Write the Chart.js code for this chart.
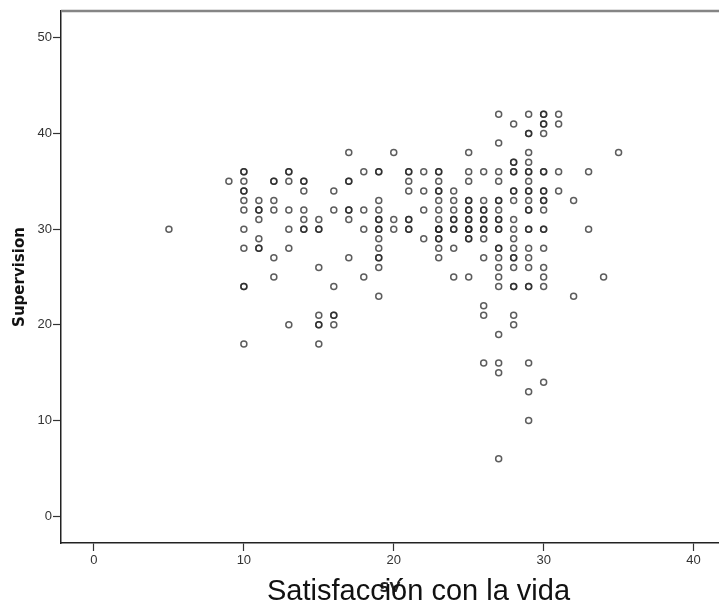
<!DOCTYPE html>
<html lang="es">
<head>
<meta charset="utf-8">
<title>Satisfacción con la vida</title>
<script src="https://cdn.jsdelivr.net/npm/chart.js@4/dist/chart.umd.js"></script>
<style>
    html, body { margin: 0; padding: 0; background: #fff; overflow: hidden; }
    #caja { position: relative; width: 719px; height: 605px; }
    #etiqueta {
        position: absolute; left: 267px; top: 574px; white-space: nowrap;
        font: 29px "Liberation Sans", Arial, sans-serif; color: #111;
    }
</style>
</head>
<body>
<div id="caja">
    <canvas id="grafica" width="719" height="605"></canvas>
    <div id="etiqueta">Satisfacción con la vida</div>
</div>
<script>
// repeated values are cases that overlap, they print darker
const valoresSV = [5, 9, 10, 11, 12, 13, 14, 15, 16, 17, 18, 19, 20, 21, 22, 23, 24, 25, 26, 27, 28, 29, 30, 31, 32, 33, 34, 35];
const supervisionPorSV = [
    [30],
    [35],
    [36, 36, 35, 34, 34, 33, 32, 30, 28, 24, 24, 18],
    [33, 32, 32, 31, 29, 28, 28],
    [35, 35, 33, 32, 27, 25],
    [36, 36, 35, 32, 30, 28, 20],
    [35, 35, 34, 32, 31, 30, 30],
    [31, 30, 30, 26, 21, 20, 20, 18],
    [34, 32, 24, 21, 21, 20],
    [38, 35, 35, 32, 32, 31, 27],
    [36, 32, 30, 25],
    [36, 36, 33, 32, 31, 31, 30, 30, 29, 28, 27, 27, 26, 23],
    [38, 31, 30],
    [36, 36, 35, 34, 31, 31, 30, 30],
    [36, 34, 32, 29],
    [36, 36, 35, 34, 34, 33, 32, 31, 30, 30, 30, 29, 29, 28, 27],
    [34, 33, 32, 31, 31, 30, 30, 28, 25],
    [38, 36, 35, 33, 33, 32, 32, 31, 31, 30, 30, 30, 29, 29, 25],
    [36, 33, 32, 32, 31, 31, 30, 30, 29, 27, 22, 21, 16],
    [42, 39, 36, 35, 33, 33, 32, 31, 31, 30, 30, 28, 28, 27, 26, 25, 24, 19, 16, 15, 6],
    [41, 37, 37, 36, 36, 34, 34, 33, 31, 30, 29, 28, 27, 27, 26, 24, 24, 21, 20],
    [42, 40, 40, 38, 37, 36, 36, 35, 34, 34, 33, 32, 32, 30, 30, 28, 27, 26, 24, 24, 16, 13, 10],
    [42, 42, 41, 41, 40, 36, 36, 34, 34, 33, 33, 32, 30, 30, 28, 26, 25, 24, 14],
    [42, 41, 36, 34],
    [33, 23],
    [36, 30],
    [25],
    [38],
];
const ticksX = [0, 10, 20, 30, 40];

const puntos = [];
valoresSV.forEach((sv, i) => {
    supervisionPorSV[i].forEach((valor) => {
        puntos.push({ x: sv, y: valor });
    });
});

// the grey rule along the top of the plot area
const lineaSuperior = {
    id: "lineaSuperior",
    afterDraw(chart) {
        const { ctx, chartArea } = chart;
        ctx.save();
        ctx.strokeStyle = "#858585";
        ctx.lineWidth = 2.5;
        ctx.beginPath();
        ctx.moveTo(chartArea.left, chartArea.top);
        ctx.lineTo(chartArea.right, chartArea.top);
        ctx.stroke();
        ctx.restore();
    },
};

const fuenteTicks = { family: "'Liberation Sans', Arial, sans-serif", size: 13 };
const fuenteTitulo = { family: "'DejaVu Sans', sans-serif", size: 14, weight: "bold" };

new Chart(document.getElementById("grafica"), {
    type: "scatter",
    data: {
        datasets: [{
            label: "Supervision",
            data: puntos,
            pointRadius: 3,
            pointBorderWidth: 1.5,
            pointBackgroundColor: "transparent",
            pointBorderColor: "rgba(30, 30, 30, 0.72)",
        }],
    },
    plugins: [lineaSuperior],
    options: {
        responsive: false,
        animation: false,
        layout: { autoPadding: false, padding: { top: 11, left: 0, right: 0, bottom: 0 } },
        plugins: { legend: { display: false }, tooltip: { enabled: false } },
        scales: {
            x: {
                type: "linear",
                min: -2.2,
                max: 41.7,
                afterFit: (eje) => {
                    eje.height = 62;
                    eje.paddingLeft = 0;
                    eje.paddingRight = 0;
                },
                afterBuildTicks: (eje) => { eje.ticks = ticksX.map((value) => ({ value })); },
                ticks: { color: "#333", font: fuenteTicks, padding: 2, maxRotation: 0 },
                grid: { drawOnChartArea: false, tickLength: 8, tickColor: "#333", tickWidth: 1.2 },
                border: { color: "#222", width: 1.5 },
                title: { display: true, text: "SV", color: "#222", font: fuenteTitulo, padding: { top: 0, bottom: 8 } },
            },
            y: {
                min: -2.8,
                max: 52.8,
                afterFit: (eje) => { eje.width = 61; },
                ticks: { stepSize: 10, includeBounds: false, color: "#333", font: fuenteTicks, padding: 1 },
                grid: { drawOnChartArea: false, tickLength: 8, tickColor: "#333", tickWidth: 1.2 },
                border: { color: "#222", width: 1.5 },
                title: { display: true, text: "Supervision", color: "#111", font: { ...fuenteTitulo, size: 15 }, padding: { top: 11, bottom: 0 } },
            },
        },
    },
});
</script>
</body>
</html>
